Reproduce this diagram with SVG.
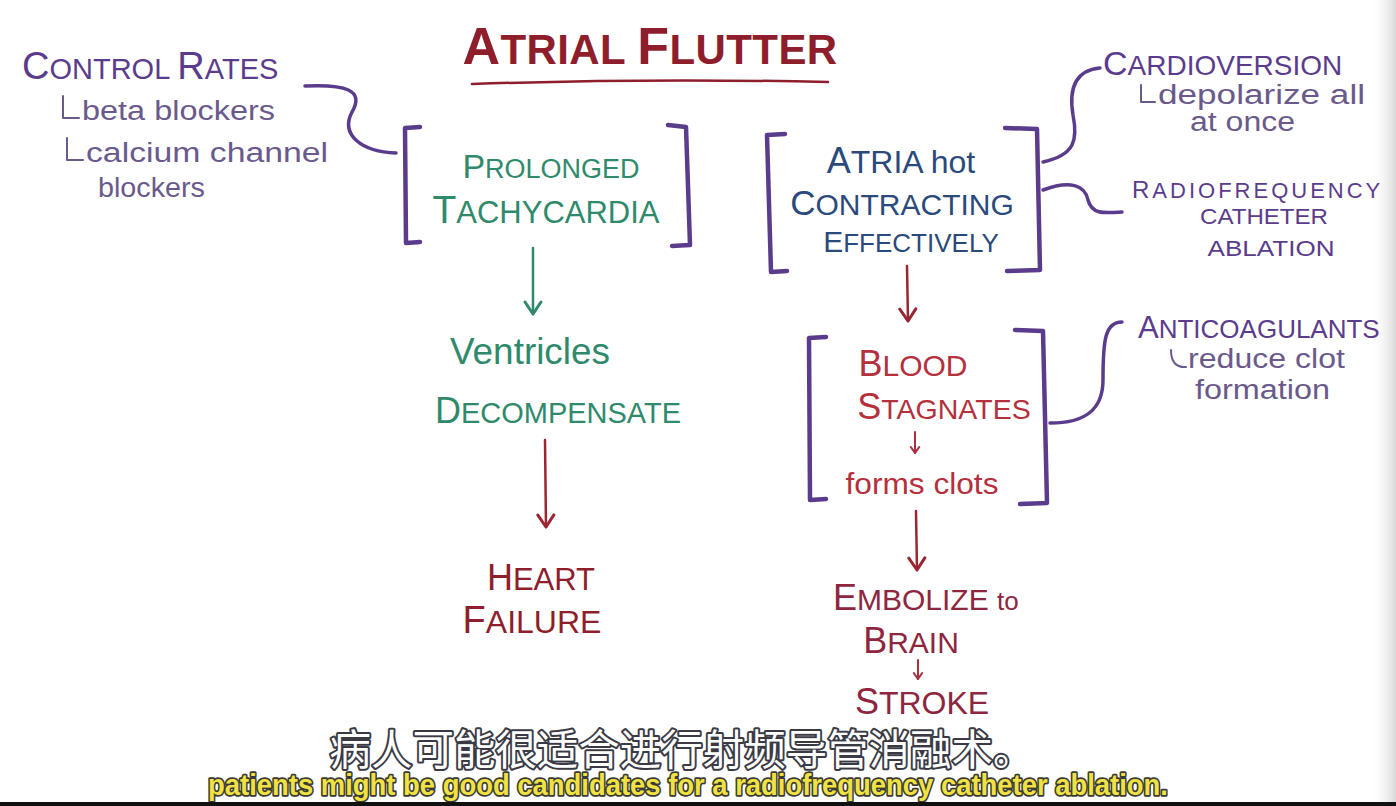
<svg xmlns="http://www.w3.org/2000/svg" width="1396" height="806" viewBox="0 0 1396 806">
<defs>
<linearGradient id="edge" x1="0" y1="0" x2="1" y2="0">
<stop offset="0" stop-color="#ffffff" stop-opacity="0"/>
<stop offset="1" stop-color="#d8d8d8"/>
</linearGradient>
<marker id="ahG" viewBox="0 0 20 20" refX="18" refY="10" markerWidth="20" markerHeight="20" markerUnits="userSpaceOnUse" orient="auto">
<path d="M6,2 L18,10 L6,18" fill="none" stroke="#2f8a6c" stroke-width="3" stroke-linecap="round" stroke-linejoin="round"/>
</marker>
<marker id="ahR" viewBox="0 0 20 20" refX="18" refY="10" markerWidth="20" markerHeight="20" markerUnits="userSpaceOnUse" orient="auto">
<path d="M6,2 L18,10 L6,18" fill="none" stroke="#9a2634" stroke-width="3" stroke-linecap="round" stroke-linejoin="round"/>
</marker>
<marker id="ahRs" viewBox="0 0 20 20" refX="18" refY="10" markerWidth="12" markerHeight="12" markerUnits="userSpaceOnUse" orient="auto">
<path d="M8,3 L18,10 L8,17" fill="none" stroke="#a83040" stroke-width="3.5" stroke-linecap="round" stroke-linejoin="round"/>
</marker>
</defs>
<style>
text{font-family:"Liberation Sans","Open Sans",sans-serif;}
.purple{fill:#5b3c8c;}
.pl{fill:#6a5a8c;font-size:27px;}
.green{fill:#2f8a6c;}
.blue{fill:#2b4a7c;}
.red{fill:#b3303c;}
.dred{fill:#8e1e2c;}
.mred{fill:#8e2640;}
.brk{fill:none;stroke:#5b3c8c;stroke-width:4.5;stroke-linecap:round;stroke-linejoin:round;}
.hook{fill:none;stroke:#6a5a8c;stroke-width:2;stroke-linecap:round;stroke-linejoin:round;}
.conn{fill:none;stroke:#5b3c8c;stroke-width:3.5;stroke-linecap:round;}
.arG{fill:none;stroke:#2f8a6c;stroke-width:2.5;stroke-linecap:round;}
.arR{fill:none;stroke:#9a2634;stroke-width:2.5;stroke-linecap:round;}
.arRs{fill:none;stroke:#a83040;stroke-width:2;stroke-linecap:round;}
.zh{font-family:"Noto Sans CJK SC",sans-serif;font-size:42px;fill:#ffffff;stroke:#3a3a44;stroke-width:4;paint-order:stroke;stroke-linejoin:round;}
.en{font-family:"Liberation Sans","Open Sans",sans-serif;font-weight:bold;font-size:30px;fill:#f0e244;stroke:#3a3a30;stroke-width:3.5;paint-order:stroke;stroke-linejoin:round;}
</style>
<rect width="1396" height="806" fill="#ffffff"/>
<rect x="1370" y="0" width="26" height="806" fill="url(#edge)"/>

<g id="title">
<text x="650" y="64" text-anchor="middle" class="dred" font-size="42" font-weight="bold" letter-spacing="0.4"><tspan font-size="52">A</tspan>TRIAL <tspan font-size="52">F</tspan>LUTTER</text>
<path d="M472,84 Q650,78 828,82" fill="none" stroke="#8e1e2c" stroke-width="2.5" stroke-linecap="round"/>
</g>

<g id="control-rates">
<text x="22" y="79" class="purple" font-size="29"><tspan font-size="38">C</tspan>ONTROL <tspan font-size="38">R</tspan>ATES</text>
<path class="hook" d="M63,96 L63,118 L79,118"/>
<text x="82" y="120" class="pl" textLength="193" lengthAdjust="spacingAndGlyphs">beta blockers</text>
<path class="hook" d="M67,138 L67,160 L83,160"/>
<text x="86" y="162" class="pl" textLength="242" lengthAdjust="spacingAndGlyphs">calcium channel</text>
<text x="98" y="197" class="pl" textLength="107" lengthAdjust="spacingAndGlyphs">blockers</text>
</g>

<g id="prolonged-tachycardia">
<path class="brk" d="M420,127 L405,128 L406,243 L420,242"/>
<path class="brk" d="M668,125 L686,127 L690,245 L672,246"/>
<text x="551" y="178" text-anchor="middle" class="green" font-size="27"><tspan font-size="34">P</tspan>ROLONGED</text>
<text x="546" y="223" text-anchor="middle" class="green" font-size="31"><tspan font-size="39">T</tspan>ACHYCARDIA</text>
</g>

<g id="ventricles-decompensate">
<text x="530" y="364" text-anchor="middle" class="green" font-size="36" textLength="160" lengthAdjust="spacingAndGlyphs">Ventricles</text>
<text x="558" y="423" text-anchor="middle" class="green" font-size="29"><tspan font-size="36">D</tspan>ECOMPENSATE</text>
</g>

<g id="heart-failure">
<text x="541" y="590" text-anchor="middle" class="dred" font-size="31"><tspan font-size="36">H</tspan>EART</text>
<text x="532" y="633" text-anchor="middle" class="dred" font-size="32"><tspan font-size="38">F</tspan>AILURE</text>
</g>

<g id="atria">
<path class="brk" d="M785,134 L767,135 L771,272 L787,271"/>
<path class="brk" d="M1005,128 L1037,129 L1040,270 L1007,271"/>
<text x="901" y="173" text-anchor="middle" class="blue" font-size="32"><tspan font-size="36">A</tspan>TRIA hot</text>
<text x="902" y="215" text-anchor="middle" class="blue" font-size="30"><tspan font-size="35">C</tspan>ONTRACTING</text>
<text x="911" y="252" text-anchor="middle" class="blue" font-size="26"><tspan font-size="30">E</tspan>FFECTIVELY</text>
</g>

<g id="cardioversion">
<text x="1103" y="75" class="purple" font-size="28"><tspan font-size="34">C</tspan>ARDIOVERSION</text>
<path class="hook" d="M1141,85 L1141,102 L1155,102"/>
<text x="1158" y="104" class="pl" font-size="23" textLength="207" lengthAdjust="spacingAndGlyphs">depolarize all</text>
<text x="1190" y="131" class="pl" font-size="23" textLength="105" lengthAdjust="spacingAndGlyphs">at once</text>
</g>

<g id="radiofrequency">
<text x="1132" y="198" class="purple" font-size="22" letter-spacing="3"><tspan font-size="24">R</tspan>ADIOFREQUENCY</text>
<text x="1264" y="224" text-anchor="middle" class="purple" font-size="22" textLength="128" lengthAdjust="spacingAndGlyphs">CATHETER</text>
<text x="1271" y="256" text-anchor="middle" class="purple" font-size="22" textLength="127" lengthAdjust="spacingAndGlyphs">ABLATION</text>
</g>

<g id="blood-stagnates">
<path class="brk" d="M826,337 L809,338 L810,500 L826,499"/>
<path class="brk" d="M1015,330 L1043,331 L1047,503 L1020,504"/>
<text x="913" y="376" text-anchor="middle" class="red" font-size="30"><tspan font-size="36">B</tspan>LOOD</text>
<text x="944" y="419" text-anchor="middle" class="red" font-size="28.5"><tspan font-size="36">S</tspan>TAGNATES</text>
<text x="922" y="494" text-anchor="middle" class="red" font-size="30" textLength="153" lengthAdjust="spacingAndGlyphs">forms clots</text>
</g>

<g id="anticoagulants">
<text x="1138" y="338" class="purple" font-size="26"><tspan font-size="31">A</tspan>NTICOAGULANTS</text>
<path class="hook" d="M1171,350 Q1171,368 1186,367"/>
<text x="1188" y="368" class="pl" font-size="24" textLength="157" lengthAdjust="spacingAndGlyphs">reduce clot</text>
<text x="1195" y="399" class="pl" font-size="24" textLength="135" lengthAdjust="spacingAndGlyphs">formation</text>
</g>

<g id="embolize">
<text x="833" y="610" class="mred" font-size="30"><tspan font-size="36">E</tspan>MBOLIZE <tspan font-size="26">to</tspan></text>
<text x="911" y="653" text-anchor="middle" class="mred" font-size="30"><tspan font-size="36">B</tspan>RAIN</text>
</g>

<g id="stroke">
<text x="922" y="714" text-anchor="middle" class="mred" font-size="32"><tspan font-size="36">S</tspan>TROKE</text>
</g>

<g id="connectors">
<path class="conn" d="M305,86 C345,84 365,90 352,112 C340,135 362,152 396,153"/>
<path class="conn" d="M1043,162 C1075,155 1078,140 1073,115 C1068,85 1078,70 1100,68"/>
<path class="conn" d="M1043,190 C1070,180 1085,185 1088,200 C1092,215 1105,213 1122,212"/>
<path class="conn" d="M1050,423 C1085,423 1103,410 1103,380 C1103,340 1105,322 1122,322"/>
<path class="arG" d="M533,248 L533,314" marker-end="url(#ahG)"/>
<path class="arR" d="M545,440 L546,527" marker-end="url(#ahR)"/>
<path class="arR" d="M907,266 L908,321" marker-end="url(#ahR)"/>
<path class="arRs" d="M915,432 L915,453" marker-end="url(#ahRs)"/>
<path class="arR" d="M916,511 L917,570" marker-end="url(#ahR)"/>
<path class="arRs" d="M918,660 L918,679" marker-end="url(#ahRs)"/>
</g>

<g id="subtitles">
<text x="682" y="765" text-anchor="middle" class="zh" textLength="705" lengthAdjust="spacingAndGlyphs">病人可能很适合进行射频导管消融术。</text>
<text x="688" y="795" text-anchor="middle" class="en" textLength="960" lengthAdjust="spacingAndGlyphs">patients might be good candidates for a radiofrequency catheter ablation.</text>
</g>
<rect x="0" y="802" width="1396" height="4" fill="#111111"/>
</svg>
